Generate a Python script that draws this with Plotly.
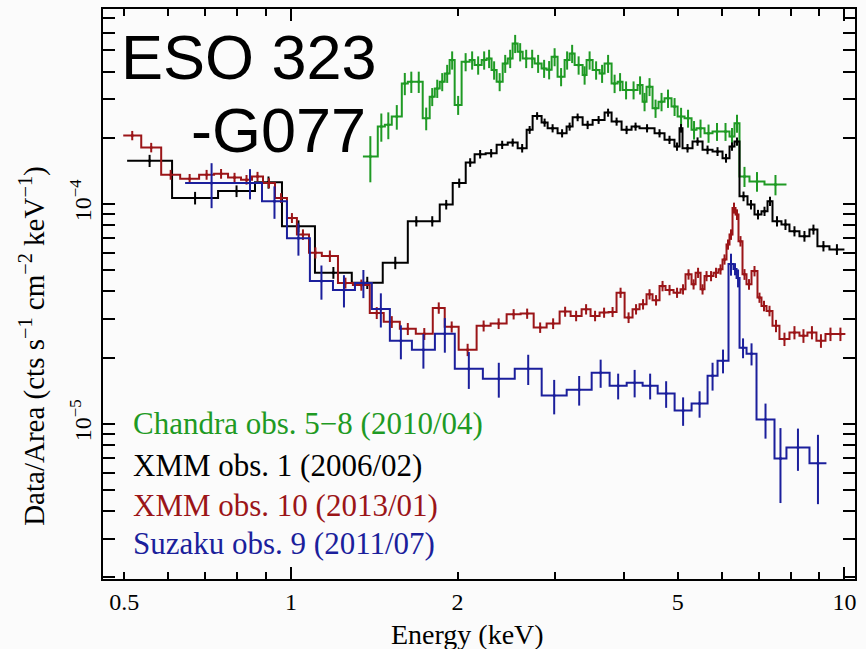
import numpy as np
import plotly.graph_objects as go

# Fluxes below are in units of 1e-5 cts s^-1 cm^-2 keV^-1
FLUX_UNIT = 1e-5

# Chandra obs. 5-8 (2010/04): bin edges (keV), binned flux, 1-sigma errors
chandra_edges = [1.349, 1.435, 1.478, 1.521, 1.586, 1.626, 1.674, 1.730, 1.781, 1.819,
                 1.857, 1.896, 1.935, 1.976, 2.034, 2.103, 2.147, 2.211, 2.257, 2.304,
                 2.353, 2.413, 2.464, 2.515, 2.568, 2.622, 2.700, 2.756, 2.837, 2.897,
                 2.958, 3.032, 3.122, 3.188, 3.255, 3.365, 3.421, 3.508, 3.611, 3.687,
                 3.796, 3.892, 3.973, 4.091, 4.229, 4.318, 4.390, 4.501, 4.615, 4.731,
                 4.871, 4.996, 5.142, 5.294, 5.405, 5.588, 5.777, 5.997, 6.200, 6.330,
                 6.463, 6.737, 7.171, 7.858]
chandra_flux = [16.45, 22.50, 22.91, 24.98, 35.35, 35.99, 35.99, 24.54, 30.78, 33.56,
                35.99, 39.25, 45.15, 28.22, 44.35, 45.15, 42.85, 45.15, 45.90, 40.67,
                35.99, 43.57, 45.90, 53.68, 49.22, 45.90, 45.90, 43.57, 41.36, 40.79,
                46.72, 37.92, 45.15, 48.36, 42.85, 38.60, 45.15, 40.67, 39.25, 43.57,
                35.35, 35.99, 33.01, 33.01, 34.77, 29.21, 34.16, 27.24, 29.21, 30.24,
                27.73, 24.98, 24.54, 21.74, 22.11, 20.98, 21.36, 21.36, 20.27, 23.29,
                13.35, 12.67, 12.25]
chandra_err = [3.9, 3.3, 3.2, 3.2, 4.1, 4.0, 4.0, 2.9, 2.9, 3.2,
               3.4, 3.7, 4.3, 2.8, 4.2, 4.3, 4.1, 4.3, 4.4, 3.9,
               3.4, 4.1, 4.4, 5.1, 4.7, 4.4, 4.4, 4.1, 3.9, 3.9,
               4.4, 3.6, 4.3, 4.6, 4.1, 3.7, 4.3, 3.9, 3.7, 4.1,
               3.4, 3.4, 3.1, 3.1, 3.3, 2.8, 3.2, 2.6, 2.8, 2.9,
               2.6, 2.4, 2.3, 2.1, 2.1, 2.0, 2.0, 2.0, 1.9, 2.2,
               1.4, 1.3, 1.3]

# XMM obs. 1 (2006/02)
xmm1_edges = [0.5058, 0.6098, 0.7384, 0.8610, 0.9633, 1.105, 1.288, 1.465, 1.626, 1.745,
              1.857, 1.960, 2.069, 2.147, 2.248, 2.353, 2.464, 2.568, 2.666, 2.733,
              2.837, 2.909, 3.032, 3.148, 3.228, 3.365, 3.508, 3.687, 3.796, 3.957,
              4.125, 4.264, 4.539, 4.731, 4.931, 5.036, 5.099, 5.316, 5.542, 5.777,
              6.022, 6.200, 6.330, 6.463, 6.682, 6.879, 7.082, 7.262, 7.414, 7.696,
              7.956, 8.294, 8.646, 8.938, 9.396, 10.00]
xmm1_flux = [15.73, 10.65, 11.45, 12.54, 7.924, 4.867, 4.384, 5.402, 8.348, 8.348,
             9.938, 12.45, 15.45, 16.85, 17.03, 18.59, 19.04, 17.94, 21.74, 25.16,
             23.46, 22.11, 20.98, 22.50, 24.79, 22.91, 24.13, 26.04, 23.71, 21.74,
             22.50, 22.11, 20.98, 19.59, 18.26, 22.11, 17.94, 19.24, 17.64, 17.33,
             16.16, 18.26, 19.24, 10.84, 9.938, 8.954, 9.267, 10.29, 8.348, 8.066,
             7.520, 7.138, 7.656, 6.431, 6.213]
xmm1_err = [1.0, 0.7, 0.7, 0.8, 0.5, 0.3, 0.28, 0.35, 0.45, 0.45,
            0.5, 0.6, 0.7, 0.75, 0.75, 0.8, 0.8, 0.8, 0.9, 1.0,
            1.0, 0.95, 0.9, 0.95, 1.0, 1.0, 1.0, 1.1, 1.0, 0.95,
            0.95, 0.95, 0.9, 0.85, 0.8, 1.0, 0.8, 0.85, 0.8, 0.8,
            0.75, 0.8, 0.85, 0.55, 0.5, 0.45, 0.45, 0.5, 0.45, 0.45,
            0.4, 0.4, 0.4, 0.35, 0.35]

# XMM obs. 10 (2013/01)
xmm10_edges = [0.4977, 0.5364, 0.5828, 0.6307, 0.6824, 0.7263, 0.7697, 0.8124, 0.8504, 0.8902,
               0.9357, 0.9835, 1.025, 1.078, 1.137, 1.216, 1.294, 1.388, 1.471, 1.573,
               1.681, 1.804, 1.896, 2.009, 2.165, 2.295, 2.453, 2.600, 2.745, 2.897,
               3.058, 3.201, 3.351, 3.478, 3.611, 3.749, 3.875, 4.007, 4.142, 4.264,
               4.390, 4.501, 4.634, 4.751, 4.912, 5.057, 5.163, 5.294, 5.384, 5.496,
               5.588, 5.682, 5.801, 5.923, 6.022, 6.123, 6.200, 6.278, 6.357, 6.436,
               6.544, 6.654, 6.794, 6.965, 7.082, 7.232, 7.414, 7.632, 7.956, 8.294,
               8.574, 8.901, 9.242, 9.634, 10.04]
xmm10_flux = [20.49, 18.07, 13.59, 13.04, 13.59, 13.73, 13.21, 12.90, 13.35, 12.45,
              10.65, 8.642, 7.266, 5.997, 5.794, 4.371, 4.281, 3.196, 2.909, 2.704,
              2.567, 3.367, 2.761, 2.172, 2.790, 2.858, 3.153, 3.173, 2.741, 2.858,
              3.239, 3.097, 3.321, 3.097, 3.206, 3.229, 3.950, 3.043, 3.321, 3.500,
              3.885, 3.649, 4.236, 4.063, 3.950, 4.093, 4.786, 4.312, 4.867, 4.093,
              4.702, 4.702, 4.867, 5.043, 5.597, 6.546, 7.266, 9.592, 8.954, 6.775,
              4.786, 4.312, 4.954, 3.750, 3.438, 3.263, 2.790, 2.428, 2.602, 2.514,
              2.602, 2.386, 2.559, 2.559]
xmm10_err = [1.0, 0.9, 0.7, 0.65, 0.7, 0.7, 0.65, 0.65, 0.65, 0.65,
             0.55, 0.45, 0.4, 0.35, 0.35, 0.25, 0.25, 0.2, 0.18, 0.17,
             0.16, 0.2, 0.16, 0.14, 0.16, 0.16, 0.17, 0.17, 0.15, 0.16,
             0.17, 0.17, 0.18, 0.17, 0.17, 0.17, 0.21, 0.17, 0.18, 0.19,
             0.21, 0.2, 0.23, 0.22, 0.21, 0.22, 0.26, 0.23, 0.26, 0.22,
             0.25, 0.25, 0.26, 0.27, 0.3, 0.35, 0.4, 0.55, 0.5, 0.37,
             0.27, 0.24, 0.27, 0.2, 0.19, 0.18, 0.18, 0.17, 0.18, 0.18,
             0.18, 0.17, 0.18, 0.18]

# Suzaku obs. 9 (2011/07)
suzaku_edges = [0.6438, 0.8024, 0.8865, 0.9835, 1.082, 1.191, 1.305, 1.400, 1.509, 1.654,
                1.820, 1.977, 2.222, 2.537, 2.838, 3.149, 3.494, 3.765, 4.042, 4.319,
                4.598, 4.934, 5.295, 5.659, 5.899, 6.174, 6.304, 6.384, 6.464, 6.655,
                6.937, 7.476, 7.857, 8.647, 9.279]
suzaku_flux = [12.45, 12.45, 10.29, 6.99, 4.46, 4.063, 4.37, 3.332, 2.385, 2.172,
               2.566, 1.781, 1.605, 1.781, 1.344, 1.430, 1.708, 1.491, 1.539, 1.491,
               1.372, 1.149, 1.236, 1.656, 1.936, 5.33, 5.058, 4.605, 2.217, 2.083,
               1.046, 0.696, 0.781, 0.661]
suzaku_err = [2.88, 1.95, 1.73, 1.17, 0.79, 0.68, 0.64, 0.59, 0.42, 0.39,
              0.46, 0.34, 0.29, 0.28, 0.24, 0.22, 0.25, 0.20, 0.22, 0.20,
              0.19, 0.17, 0.17, 0.24, 0.24, 0.61, 0.32, 0.43, 0.23, 0.24,
              0.19, 0.26, 0.17, 0.23]

series_labels = ["Chandra obs. 5\u22128 (2010/04)", "XMM obs. 1 (2006/02)",
                 "XMM obs. 10 (2013/01)", "Suzaku obs. 9 (2011/07)"]

x_tick_vals = [0.5, 1, 2, 5, 10]
x_tick_text = ["0.5", "1", "2", "5", "10"]
y_tick_vals = [1e-5, 1e-4]
y_tick_text = ["10<sup>\u22125</sup>", "10<sup>\u22124</sup>"]

GREEN = "#1f9a24"
BLACK = "#000000"
RED = "#9b1518"
BLUE = "#1b1f9c"
SERIF = "Liberation Serif, Times New Roman, serif"
SANS = "Liberation Sans, Arial, sans-serif"

X_RANGE = [np.log10(0.4575), np.log10(10.45)]
Y_RANGE = [-5.706, -3.113]

fig = go.Figure()


def add_spectrum(edges, flux, err, color):
    edges = np.asarray(edges, dtype=float)
    flux = np.asarray(flux, dtype=float) * FLUX_UNIT
    err = np.asarray(err, dtype=float) * FLUX_UNIT
    centers = np.sqrt(edges[:-1] * edges[1:])
    # histogram outline over the bin edges
    fig.add_trace(go.Scatter(
        x=edges, y=np.append(flux, flux[-1]), mode="lines",
        line=dict(color=color, width=2, shape="hv"),
        hoverinfo="skip", showlegend=False))
    # vertical error bars at bin centres
    fig.add_trace(go.Scatter(
        x=centers, y=flux, mode="markers",
        marker=dict(size=3, color=color, symbol="circle"),
        error_y=dict(type="data", array=err, color=color, thickness=2, width=0),
        showlegend=False))


add_spectrum(chandra_edges, chandra_flux, chandra_err, GREEN)
add_spectrum(xmm1_edges, xmm1_flux, xmm1_err, BLACK)
add_spectrum(xmm10_edges, xmm10_flux, xmm10_err, RED)
add_spectrum(suzaku_edges, suzaku_flux, suzaku_err, BLUE)

# carrier trace for the overlay axis that draws the long decade ticks
fig.add_trace(go.Scatter(x=[1], y=[1e-4], xaxis="x2", mode="markers",
                         marker=dict(opacity=0), hoverinfo="skip", showlegend=False))

y_minor = [m * 10.0 ** e for e in (-6, -5, -4) for m in range(2, 10)]
y_minor = [v for v in y_minor if 10 ** Y_RANGE[0] < v < 10 ** Y_RANGE[1]]

fig.update_layout(
    width=866, height=649,
    margin=dict(l=103, r=11, t=7, b=70),
    paper_bgcolor="#fbfbfb", plot_bgcolor="#fbfbfb",
    showlegend=False,
    font=dict(family=SERIF, size=24, color="black"),
    xaxis=dict(
        type="log", range=X_RANGE, showgrid=False, zeroline=False,
        showline=True, linecolor="black", linewidth=2, mirror="allticks",
        ticks="inside", ticklen=7, tickwidth=1.5, tickcolor="black",
        tickvals=x_tick_vals, ticktext=x_tick_text,
        tickfont=dict(family=SERIF, size=24, color="black"),
        minor=dict(ticks="inside", ticklen=7, tickwidth=1.5, tickcolor="black",
                   tickvals=[0.6, 0.7, 0.8, 0.9, 3, 4, 6, 7, 8, 9], showgrid=False),
    ),
    xaxis2=dict(
        type="log", range=X_RANGE, overlaying="x", side="bottom",
        showgrid=False, zeroline=False, showline=False, mirror="allticks",
        ticks="inside", ticklen=12, tickwidth=1.5, tickcolor="black",
        tickvals=[1, 10], showticklabels=False,
    ),
    yaxis=dict(
        type="log", range=Y_RANGE, showgrid=False, zeroline=False,
        showline=True, linecolor="black", linewidth=2, mirror="allticks",
        ticks="inside", ticklen=12, tickwidth=1.5, tickcolor="black",
        tickvals=y_tick_vals, ticktext=y_tick_text, tickangle=-90,
        tickfont=dict(family=SERIF, size=24, color="black"),
        minor=dict(ticks="inside", ticklen=7, tickwidth=1.5, tickcolor="black",
                   tickvals=y_minor, showgrid=False),
    ),
)


def px_to_paper(px, py):
    return (px - 103) / 752.0, (579 - py) / 572.0


annotations = []
# object name
for text, (px, py) in [("ESO 323", (119, 55)), ("-G077", (189, 128))]:
    ax, ay = px_to_paper(px, py)
    annotations.append(dict(text=text, x=ax, y=ay, xref="paper", yref="paper",
                            xanchor="left", yanchor="middle", showarrow=False,
                            font=dict(family=SANS, size=63, color="black")))
# coloured observation key
for text, color, py in zip(series_labels, [GREEN, BLACK, RED, BLUE], [423, 465, 505, 543]):
    ax, ay = px_to_paper(131, py)
    annotations.append(dict(text=text, x=ax, y=ay, xref="paper", yref="paper",
                            xanchor="left", yanchor="middle", showarrow=False,
                            font=dict(family=SERIF, size=31, color=color)))
# axis titles
ax, ay = px_to_paper(467, 635)
annotations.append(dict(text="Energy (keV)", x=ax, y=ay, xref="paper", yref="paper",
                        xanchor="center", yanchor="middle", showarrow=False,
                        font=dict(family=SERIF, size=28, color="black")))
ax, ay = px_to_paper(33, 345)
annotations.append(dict(text="Data/Area (cts s<sup>\u22121</sup> cm<sup>\u22122</sup> keV<sup>\u22121</sup>)",
                        x=ax, y=ay, xref="paper", yref="paper", textangle=-90,
                        xanchor="center", yanchor="middle", showarrow=False,
                        font=dict(family=SERIF, size=29, color="black")))
fig.update_layout(annotations=annotations)

fig.write_html("out.html")
